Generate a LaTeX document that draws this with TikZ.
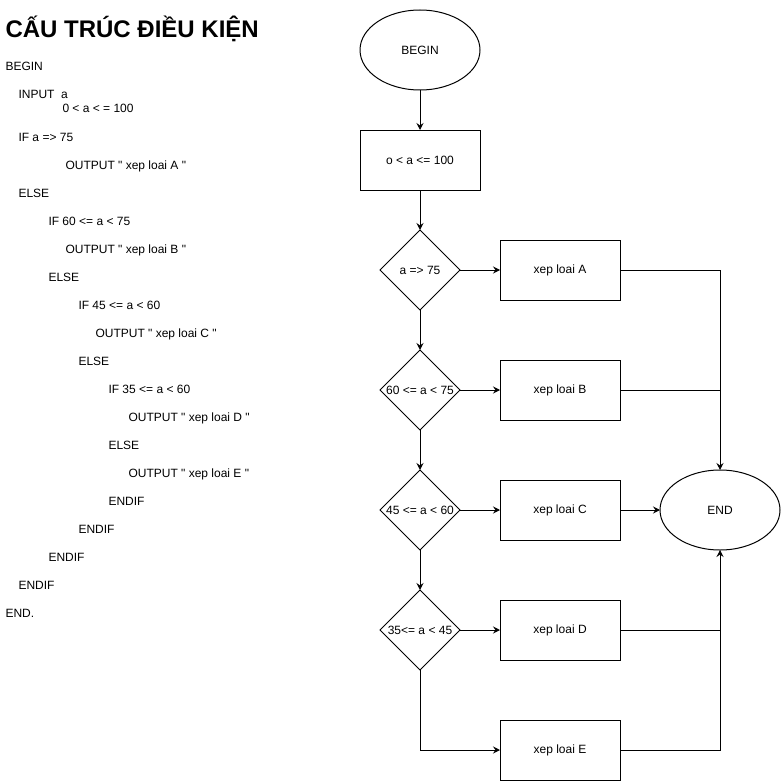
\documentclass[tikz,border=0pt]{standalone}
\usepackage{fontspec}
\newfontfamily\arialfont{Liberation Sans}
\usetikzlibrary{positioning, shapes.geometric, arrows.meta}

\begin{document}
\begin{tikzpicture}[
 x=1pt, y=-1pt,
 node distance=40pt and 40pt,
 font=\arialfont\fontsize{12}{14}\selectfont,
 terminal/.style={draw, ellipse, minimum width=120pt, minimum height=80pt, inner sep=0pt, outer sep=0pt},
 process/.style={draw, rectangle, minimum width=120pt, minimum height=60pt, inner sep=0pt, outer sep=0pt},
 decision/.style={draw, diamond, minimum width=80pt, minimum height=80pt, inner sep=0pt, outer sep=0pt},
 code/.style={anchor=base west, inner sep=0pt},
 arrow/.style={-{Stealth[length=7pt, width=7pt, inset=2.5pt]}},
 line width=1pt
 ]

  \useasboundingbox (0,0) rectangle (781,781);

  % Title
  \node[code, font=\arialfont\bfseries\fontsize{24}{28}\selectfont] (title) at (5,38) {CẤU TRÚC ĐIỀU KIỆN};

  % Pseudo code
  \node[code] (code_begin) at (5,71) {BEGIN};
  \node[code] (code_input) at (18,99) {INPUT\ \ a};
  \node[code] (code_range) at (62,113) {0 < a < = 100};
  \node[code] (code_if_a) at (18,141) {IF a => 75};
  \node[code] (code_out_a) at (65,169) {OUTPUT " xep loai A "};
  \node[code] (code_else_a) at (18,197) {ELSE};
  \node[code] (code_if_b) at (48,225) {IF 60 <= a < 75};
  \node[code] (code_out_b) at (65,253) {OUTPUT " xep loai B "};
  \node[code] (code_else_b) at (48,281) {ELSE};
  \node[code] (code_if_c) at (78,309) {IF 45 <= a < 60};
  \node[code] (code_out_c) at (95,337) {OUTPUT " xep loai C "};
  \node[code] (code_else_c) at (78,365) {ELSE};
  \node[code] (code_if_d) at (108,393) {IF 35 <= a < 60};
  \node[code] (code_out_d) at (128,421) {OUTPUT " xep loai D "};
  \node[code] (code_else_d) at (108,449) {ELSE};
  \node[code] (code_out_e) at (128,477) {OUTPUT " xep loai E "};
  \node[code] (code_endif_d) at (108,505) {ENDIF};
  \node[code] (code_endif_c) at (78,533) {ENDIF};
  \node[code] (code_endif_b) at (48,561) {ENDIF};
  \node[code] (code_endif_a) at (18,589) {ENDIF};
  \node[code] (code_end) at (5,617) {END.};

  % Flowchart
  \node[terminal] (begin) at (420,50) {BEGIN};
  \node[process, below=of begin] (init) {o < a <= 100};

  \node[decision, below=of init, label=center:{a => 75}] (dec_a) {};
  \node[decision, below=of dec_a, label=center:{60 <= a < 75}] (dec_b) {};
  \node[decision, below=of dec_b, label=center:{45 <= a < 60}] (dec_c) {};
  \node[decision, below=of dec_c, label=center:{35<= a < 45}] (dec_d) {};

  \node[process, right=of dec_a] (out_a) {xep loai A};
  \node[process, right=of dec_b] (out_b) {xep loai B};
  \node[process, right=of dec_c] (out_c) {xep loai C};
  \node[process, right=of dec_d] (out_d) {xep loai D};
  \node[process, below=60pt of out_d] (out_e) {xep loai E};

  \node[terminal, right=of out_c] (end) {END};

  % Arrows down the main line
  \draw[arrow] (begin) -- (init);
  \draw[arrow] (init) -- (dec_a);
  \draw[arrow] (dec_a) -- (dec_b);
  \draw[arrow] (dec_b) -- (dec_c);
  \draw[arrow] (dec_c) -- (dec_d);
  \draw[arrow] (dec_d.south) |- (out_e.west);

  % Arrows to the outputs
  \draw[arrow] (dec_a) -- (out_a);
  \draw[arrow] (dec_b) -- (out_b);
  \draw[arrow] (dec_c) -- (out_c);
  \draw[arrow] (dec_d) -- (out_d);

  % Arrows to END
  \draw[arrow] (out_a.east) -| (end.north);
  \draw (out_b.east) -- (end.north |- out_b);
  \draw[arrow] (out_c) -- (end);
  \draw[arrow] (out_d.east) -| (end.south);
  \draw (out_e.east) -| (end.north |- out_d);

\end{tikzpicture}
\end{document}
